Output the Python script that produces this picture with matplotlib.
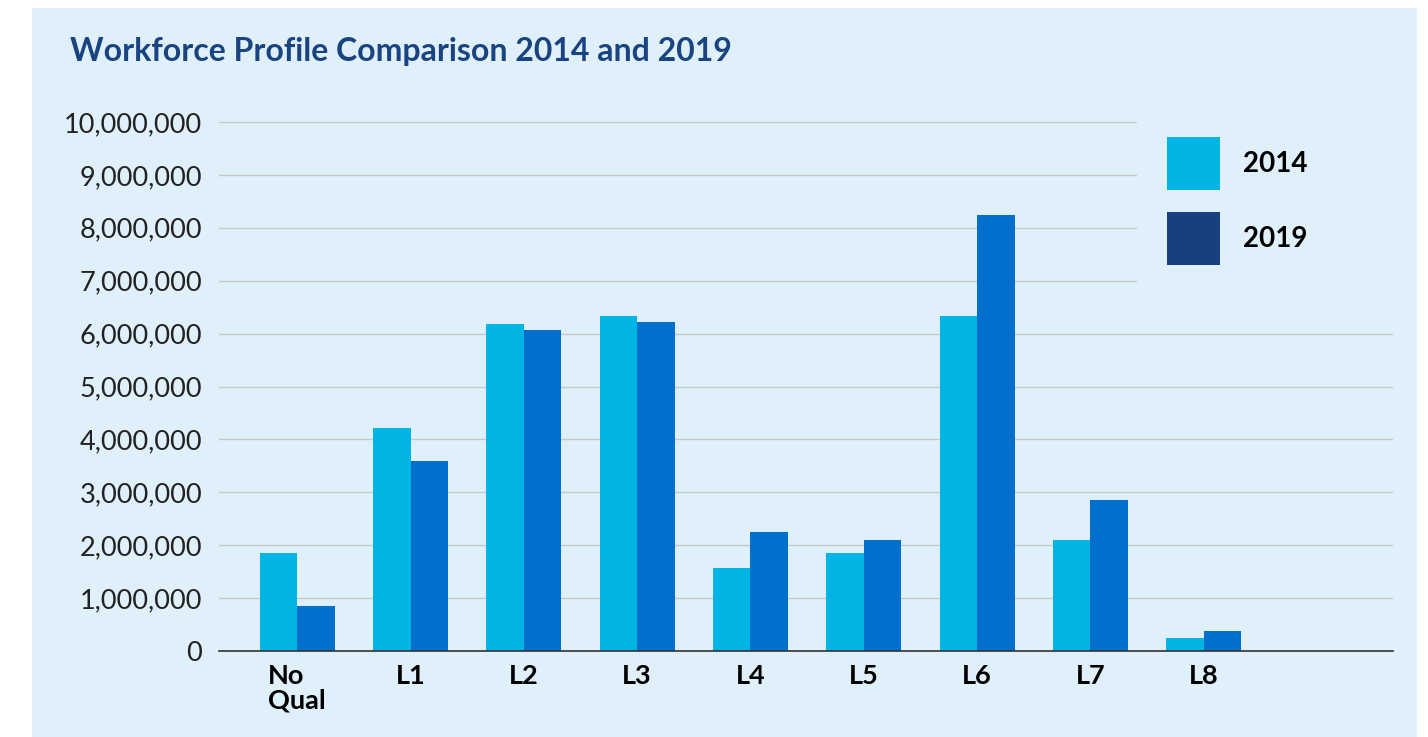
import numpy as np
import matplotlib.pyplot as plt
from matplotlib.patches import Patch, Rectangle

plt.rcParams['font.family'] = ['Lato', 'DejaVu Sans']

# data
CATEGORIES = ['No\nQual', 'L1', 'L2', 'L3', 'L4', 'L5', 'L6', 'L7', 'L8']
VALUES_2014 = [1850000, 4220000, 6180000, 6330000, 1570000, 1850000, 6330000, 2100000, 250000]
VALUES_2019 = [850000, 3590000, 6070000, 6220000, 2250000, 2100000, 8240000, 2850000, 380000]
YEARS = ['2014', '2019']
Y_TICKS = np.arange(0, 10000001, 1000000)

BG = '#DFF0FA'
C14 = '#00B4E4'
C19 = '#0070CC'
C19_LEG = '#16407F'
TITLE_C = '#1A4480'

fig = plt.figure(figsize=(14.28, 7.37), dpi=100)
fig.patch.set_facecolor('white')
fig.patches.append(Rectangle((32 / 1428, 0), (1417 - 32) / 1428, 1 - 8 / 737,
                             transform=fig.transFigure, facecolor=BG,
                             edgecolor='none', zorder=-5))

ax = fig.add_axes([219 / 1428, 1 - 651 / 737, (1393 - 219) / 1428, (651 - 122) / 737])
ax.set_facecolor('none')

x = np.arange(len(CATEGORIES))
w = 0.33
ax.bar(x - w / 2, VALUES_2014, w, color=C14, zorder=3)
ax.bar(x + w / 2, VALUES_2019, w, color=C19, zorder=3)

ax.set_xlim(-0.69, 9.67)
ax.set_ylim(0, 10000000)
ax.set_yticks(Y_TICKS)
ax.set_yticklabels([f'{v:,}' for v in Y_TICKS], fontsize=19.5, color='#222222')
ax.set_xticks(x)
ax.set_xticklabels(CATEGORIES, fontsize=19.5, fontweight='bold', color='black',
                   multialignment='left', linespacing=1.05)
ax.tick_params(axis='y', length=0, pad=12)
ax.tick_params(axis='x', length=0, pad=9)

ax.yaxis.grid(True, color='#C8C8C8', lw=1, zorder=1)
ax.set_axisbelow(True)
for s in ['top', 'right', 'left']:
    ax.spines[s].set_visible(False)
ax.spines['bottom'].set_color('#333333')
ax.spines['bottom'].set_linewidth(1.2)
ax.spines['bottom'].set_zorder(4)

# legend area hides the upper gridlines
ax.add_patch(Rectangle(((1137 - 219) / (1393 - 219), 0.64), 0.23, 0.4, transform=ax.transAxes,
                       facecolor=BG, edgecolor='none', zorder=2, clip_on=False))

handles = [Patch(facecolor=C14), Patch(facecolor=C19_LEG)]
leg = fig.legend(handles, YEARS, loc='upper left',
                 bbox_to_anchor=(1167 / 1428, 1 - 137 / 737),
                 frameon=False, borderpad=0, borderaxespad=0,
                 handlelength=1.9, handleheight=2.55, handletextpad=0.85,
                 labelspacing=0.8,
                 prop={'size': 20, 'weight': 'bold'})

fig.text(70 / 1428, 1 - 52 / 737, 'Workforce Profile Comparison 2014 and 2019',
         fontsize=23, fontweight='bold', color=TITLE_C, va='center', ha='left')

fig.savefig('out.png', dpi=100, facecolor=fig.get_facecolor())
